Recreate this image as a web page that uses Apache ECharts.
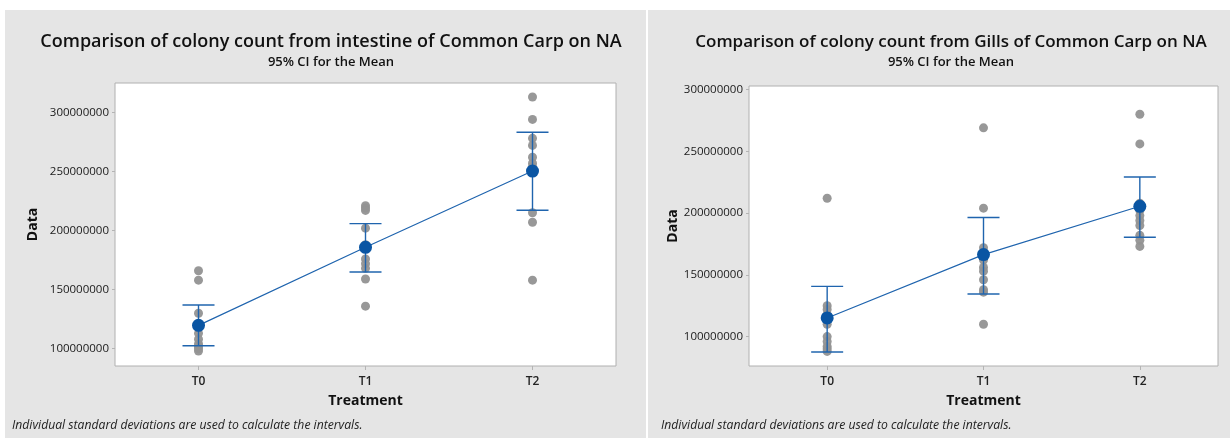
<!DOCTYPE html>
<html>
<head>
<meta charset="utf-8">
<title>Colony count interval plots</title>
<script src="https://cdn.jsdelivr.net/npm/echarts@6/dist/echarts.min.js"></script>
<style>
  html, body { margin: 0; padding: 0; background: #ffffff; }
  #chart { width: 1230px; height: 438px; }
</style>
</head>
<body>
<div id="chart"></div>
<script>
// Treatment groups
const categories = ['T0', 'T1', 'T2'];

// Intestine: individual colony counts per treatment
const intestineT0 = [166e6, 158e6, 130e6, 118e6, 113e6, 108e6, 104e6, 102e6, 100e6, 98e6];
const intestineT1 = [221e6, 219e6, 217e6, 202e6, 188e6, 176e6, 172e6, 168e6, 159e6, 136e6];
const intestineT2 = [313e6, 294e6, 278e6, 272e6, 262e6, 257e6, 254e6, 215e6, 207e6, 158e6];
// Intestine: group means and 95% CI bounds
const intestineMean = [119.8e6, 185.8e6, 250.3e6];
const intestineCiLow = [102.5e6, 164.9e6, 217.1e6];
const intestineCiHigh = [137.0e6, 205.8e6, 283.1e6];

// Gills: individual colony counts per treatment
const gillsT0 = [212e6, 125e6, 122e6, 118e6, 110e6, 100e6, 96e6, 92e6, 90e6, 88e6];
const gillsT1 = [269e6, 204e6, 172e6, 162e6, 156e6, 153e6, 146e6, 138e6, 136e6, 110e6];
const gillsT2 = [280e6, 256e6, 208e6, 202e6, 198e6, 194e6, 190e6, 182e6, 178e6, 173e6];
// Gills: group means and 95% CI bounds
const gillsMean = [115.1e6, 166.4e6, 205.5e6];
const gillsCiLow = [87.5e6, 134.5e6, 180.4e6];
const gillsCiHigh = [140.7e6, 196.4e6, 229.2e6];

// Y axis tick values
const yTicks = [100e6, 150e6, 200e6, 250e6, 300e6];

const FONT = '"Open Sans", "Noto Sans", sans-serif';
const BLUE = '#1f64ae';
const DOT = '#0a55a3';
const GREY_PT = '#929292';
const NOTE = 'Individual standard deviations are used to calculate the intervals.';

function pointsOf(groups) {
  const out = [];
  groups.forEach((vals, i) => vals.forEach(v => out.push([i, v])));
  return out;
}

function ciData(lo, hi) {
  return lo.map((l, i) => [i, l, hi[i]]);
}

// Vertical CI bar with horizontal caps at both ends
function renderCi(params, api) {
  const x = api.value(0);
  const top = api.coord([x, api.value(2)]);
  const bot = api.coord([x, api.value(1)]);
  const hw = 16;
  const style = { stroke: BLUE, lineWidth: 1.4 };
  return {
    type: 'group',
    children: [
      { type: 'line', shape: { x1: top[0], y1: top[1], x2: bot[0], y2: bot[1] }, style },
      { type: 'line', shape: { x1: top[0] - hw, y1: top[1], x2: top[0] + hw, y2: top[1] }, style },
      { type: 'line', shape: { x1: bot[0] - hw, y1: bot[1], x2: bot[0] + hw, y2: bot[1] }, style }
    ]
  };
}

function xAxisFor(idx) {
  return {
    type: 'category',
    gridIndex: idx,
    data: categories,
    boundaryGap: true,
    axisLine: { show: false },
    axisTick: { show: true, alignWithLabel: true, length: 4, lineStyle: { color: '#b4b4b4' } },
    axisLabel: { color: '#222', fontFamily: FONT, fontSize: 12, fontWeight: 600, margin: 10 },
    splitLine: { show: false },
    name: 'Treatment',
    nameLocation: 'middle',
    nameGap: 28,
    nameTextStyle: { color: '#111', fontFamily: FONT, fontSize: 14, fontWeight: 'bold' }
  };
}

function yAxisFor(idx, min, max, gap) {
  return {
    type: 'value',
    gridIndex: idx,
    min: min,
    max: max,
    axisLine: { show: false },
    axisTick: { show: true, length: 3, customValues: yTicks, lineStyle: { color: '#b4b4b4' } },
    axisLabel: {
      customValues: yTicks,
      color: '#1a1a1a', fontFamily: FONT, fontSize: 11.5, margin: 6,
      formatter: v => String(Math.round(v))
    },
    splitLine: { show: false },
    name: 'Data',
    nameLocation: 'middle',
    nameGap: gap,
    nameTextStyle: { color: '#111', fontFamily: FONT, fontSize: 14, fontWeight: 'bold' }
  };
}

function panelSeries(idx, groups, mean, lo, hi) {
  return [
    {
      type: 'scatter', xAxisIndex: idx, yAxisIndex: idx,
      data: pointsOf(groups),
      symbolSize: 9,
      itemStyle: { color: GREY_PT, opacity: 0.95 },
      z: 2, silent: true
    },
    {
      type: 'custom', xAxisIndex: idx, yAxisIndex: idx,
      data: ciData(lo, hi),
      renderItem: renderCi,
      encode: { x: 0, y: [1, 2] },
      z: 3, silent: true
    },
    {
      type: 'line', xAxisIndex: idx, yAxisIndex: idx,
      data: mean,
      symbol: 'circle', symbolSize: 13,
      lineStyle: { color: BLUE, width: 1.2 },
      itemStyle: { color: DOT },
      z: 4, silent: true
    }
  ];
}

const chart = echarts.init(document.getElementById('chart'), null, { renderer: 'canvas' });

chart.setOption({
  animation: false,
  backgroundColor: '#ffffff',
  graphic: [
    { type: 'rect', left: 5, top: 10, shape: { width: 641, height: 428 }, style: { fill: '#e5e5e5' }, z: -10, silent: true },
    { type: 'rect', left: 648, top: 10, shape: { width: 582, height: 428 }, style: { fill: '#e5e5e5' }, z: -10, silent: true },
    { type: 'text', left: 12, top: 420, style: { text: NOTE, fill: '#222', font: 'italic 12.2px ' + FONT }, silent: true },
    { type: 'text', left: 661, top: 420, style: { text: NOTE, fill: '#222', font: 'italic 12.2px ' + FONT }, silent: true }
  ],
  title: [
    {
      text: 'Comparison of colony count from intestine of Common Carp on NA',
      subtext: '95% CI for the Mean',
      left: 326, top: 28, textAlign: 'center', itemGap: 5,
      textStyle: { color: '#111', fontFamily: FONT, fontSize: 18, fontWeight: 600 },
      subtextStyle: { color: '#111', fontFamily: FONT, fontSize: 13, fontWeight: 600 }
    },
    {
      text: 'Comparison of colony count from Gills of Common Carp on NA',
      subtext: '95% CI for the Mean',
      left: 946, top: 29, textAlign: 'center', itemGap: 5,
      textStyle: { color: '#111', fontFamily: FONT, fontSize: 17, fontWeight: 600 },
      subtextStyle: { color: '#111', fontFamily: FONT, fontSize: 13, fontWeight: 600 }
    }
  ],
  grid: [
    { left: 115, right: 614, top: 83, bottom: 72, show: true, backgroundColor: '#ffffff', borderColor: '#b0b0b0', borderWidth: 1 },
    { left: 749, right: 12, top: 86, bottom: 72, show: true, backgroundColor: '#ffffff', borderColor: '#b0b0b0', borderWidth: 1 }
  ],
  xAxis: [xAxisFor(0), xAxisFor(1)],
  yAxis: [
    yAxisFor(0, 85.4e6, 324.8e6, 75),
    yAxisFor(1, 76.2e6, 302.9e6, 69)
  ],
  series: [
    ...panelSeries(0, [intestineT0, intestineT1, intestineT2], intestineMean, intestineCiLow, intestineCiHigh),
    ...panelSeries(1, [gillsT0, gillsT1, gillsT2], gillsMean, gillsCiLow, gillsCiHigh)
  ]
});
</script>
</body>
</html>
